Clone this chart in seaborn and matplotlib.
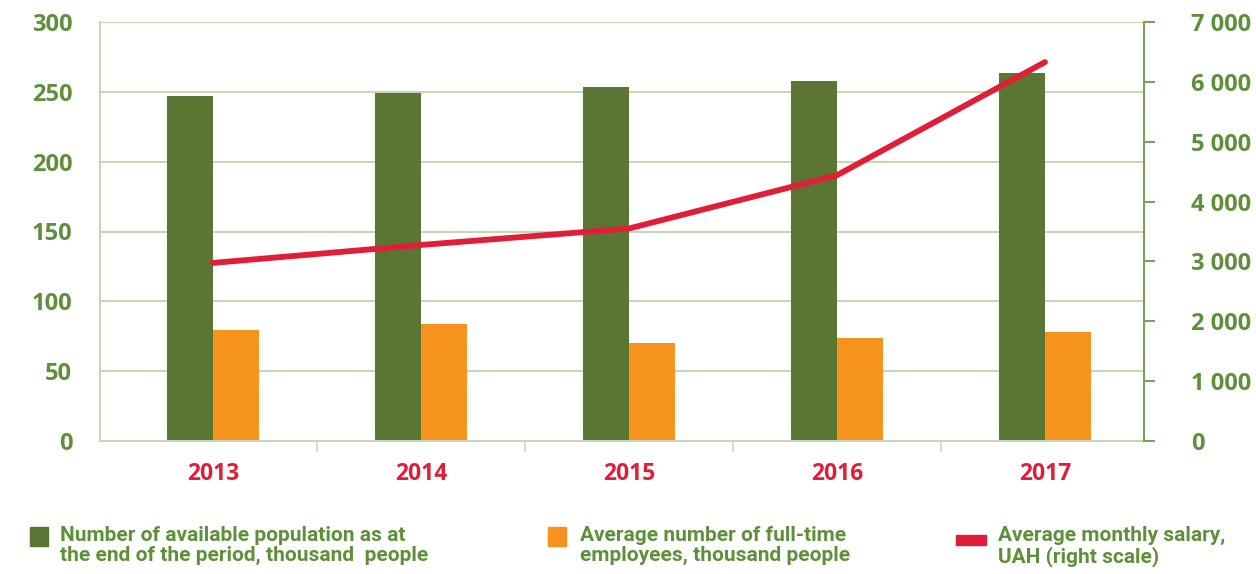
import numpy as np
import pandas as pd
import matplotlib
matplotlib.use("Agg")
import matplotlib.pyplot as plt
from matplotlib.ticker import FixedLocator
from matplotlib.patches import Rectangle
from matplotlib.transforms import ScaledTranslation
import seaborn as sns

# ---- data ----
years = ["2013", "2014", "2015", "2016", "2017"]
population = [247, 249, 253.5, 258, 263.5]          # thousand people
employees = [79.5, 84, 70.5, 74, 78]                # thousand people
salary = [2975, 3275, 3550, 4440, 6330]             # UAH
left_ticks = [0, 50, 100, 150, 200, 250, 300]
right_ticks = [0, 1000, 2000, 3000, 4000, 5000, 6000, 7000]
right_tick_labels = ["0", "1 000", "2 000", "3 000", "4 000", "5 000", "6 000", "7 000"]
legend_labels = [
    "Number of available population as at\nthe end of the period, thousand  people",
    "Average number of full-time\nemployees, thousand people",
    "Average monthly salary,\nUAH (right scale)",
]

GREEN = "#5b7632"
ORANGE = "#f6931e"
RED = "#e01e37"
TXT_GREEN = "#5e8f3a"
GRID = "#c5d7b4"
RSPINE = "#79a257"
FONT = ["Open Sans", "DejaVu Sans"]

sns.set_theme(style="white")
plt.rcParams["font.family"] = FONT

df = pd.DataFrame({
    "year": years * 2,
    "value": population + employees,
    "series": ["pop"] * 5 + ["emp"] * 5,
})

fig = plt.figure(figsize=(12.56, 5.74), dpi=100)
ax = fig.add_axes([100 / 1256, 1 - 441 / 574, (1144 - 100) / 1256, (441 - 22) / 574])

sns.barplot(data=df, x="year", y="value", hue="series", order=years,
            hue_order=["pop", "emp"], palette=[GREEN, ORANGE],
            width=0.44, gap=0, saturation=1, linewidth=0, ax=ax, legend=False)
ax.set_xlim(-0.543, 4.476)
ax.set_ylim(0, 300)
ax.set_yticks(left_ticks, labels=[str(v) for v in left_ticks],
              fontweight="bold", fontsize=17, color=TXT_GREEN)
ax.set_xticks(range(len(years)), labels=years, fontweight="bold", fontsize=16.5, color=RED)
off = ScaledTranslation(-12 / 100, 0, fig.dpi_scale_trans)
for t in ax.get_xticklabels():
    t.set_transform(t.get_transform() + off)
ax.yaxis.grid(True, color=GRID, lw=1.5)
ax.set_axisbelow(True)
ax.set_xlabel("")
ax.set_ylabel("")
for s in ["left", "bottom"]:
    ax.spines[s].set_color(GRID)
    ax.spines[s].set_linewidth(1.5)
ax.spines["top"].set_visible(False)
ax.spines["right"].set_visible(False)
ax.tick_params(axis="y", length=0, pad=20)
ax.tick_params(axis="x", which="major", length=0, pad=15)
ax.xaxis.set_minor_locator(FixedLocator([0.5, 1.5, 2.5, 3.5]))
ax.tick_params(axis="x", which="minor", length=8, width=1.2, color="#d0d0d0", direction="out", bottom=True)

ax2 = ax.twinx()
sns.lineplot(x=np.arange(len(years)), y=salary, ax=ax2, color=RED, lw=4.2,
             solid_capstyle="round", solid_joinstyle="round")
ax2.set_ylim(0, 7000)
ax2.set_yticks(right_ticks, labels=right_tick_labels, fontweight="bold", fontsize=17, color=TXT_GREEN)
ax2.tick_params(axis="y", length=8, width=1.5, color=RSPINE, pad=26)
for s in ["top", "left", "bottom"]:
    ax2.spines[s].set_visible(False)
ax2.spines["right"].set_color(RSPINE)
ax2.spines["right"].set_linewidth(1.5)
ax2.set_xlim(-0.543, 4.476)
ax2.grid(False)

# ---- legend ----
W, H = 1256, 574
def fx(x): return x / W
def fy(y): return 1 - y / H

legend_items = [
    (GREEN, 30, 527, 18, 19, 60),
    (ORANGE, 548, 527, 18, 19, 580),
    (RED, 956, 535, 30, 10, 998),
]
for (col, x0, y0, w, h, tx), lab in zip(legend_items, legend_labels):
    fig.patches.append(Rectangle((fx(x0), fy(y0 + h)), w / W, h / H, transform=fig.transFigure,
                                 color=col, figure=fig))
    fig.text(fx(tx), fy(526), lab, ha="left", va="top", fontsize=15, color=TXT_GREEN,
             fontweight="bold", linespacing=1.08,
             family=["Roboto", "DejaVu Sans"])

fig.savefig("out.png", dpi=100)
